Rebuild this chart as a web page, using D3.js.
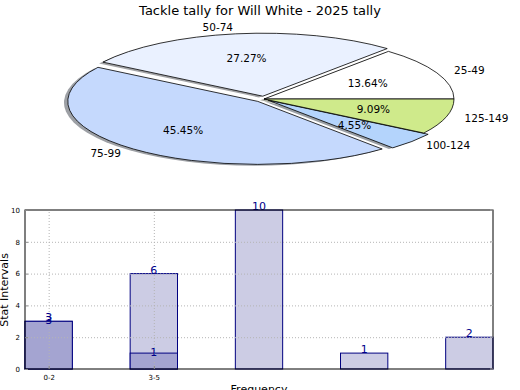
<!DOCTYPE html>
<html>
<head>
<meta charset="utf-8">
<script src="https://cdn.jsdelivr.net/npm/d3@7"></script>
<style>
    body { margin: 0; background: #fff; }
    svg { display: block; font-family: 'DejaVu Sans', sans-serif; }
</style>
</head>
<body>
<div id="chart"></div>
<script>
// pie data - tackle tally per range
const sliceLabels = ['25-49', '50-74', '75-99', '100-124', '125-149']
const sliceCounts = [3, 6, 10, 1, 2]

// bar data
const tickLabels = ['0-2', '3-5']
const lightSeries = [3, 6, 10, 1, 2]
const darkSeries = [3, 1]
const yTicks = [0, 2, 4, 6, 8, 10]

const title = 'Tackle tally for Will White - 2025 tally'

const width = 520
const height = 390

const svg = d3.select('#chart')
    .append('svg')
    .attr('width', width)
    .attr('height', height)

svg.append('text')
    .attr('x', 260)
    .attr('y', 15)
    .attr('text-anchor', 'middle')
    .attr('font-size', '13px')
    .text(title)

// ---- pie (squashed like the original) ----
const cx = 264, cy = 99, rx = 190, ry = 63
const sliceColors = ['#ffffff', '#eaf1ff', '#c5d9fd', '#b4d4fc', '#cfea8b']
const explode = [0, 0.045, 0.05, 0.03, 0]

// d3 angles run clockwise from 12 o'clock, so go backwards from 3 o'clock
const pie = d3.pie()
    .sort(null)
    .startAngle(Math.PI / 2)
    .endAngle(Math.PI / 2 - 2 * Math.PI)

const arcs = pie(sliceCounts)
const total = d3.sum(sliceCounts)

const pt = (a, k, ox, oy) => [ox + k * rx * Math.sin(a), oy - k * ry * Math.cos(a)]

const wedgePath = (d, i, dx = 0, dy = 0) => {
    const mid = (d.startAngle + d.endAngle) / 2
    const ox = cx + explode[i] * rx * Math.sin(mid) + dx
    const oy = cy - explode[i] * ry * Math.cos(mid) + dy
    const p0 = pt(d.startAngle, 1, ox, oy)
    const p1 = pt(d.endAngle, 1, ox, oy)
    const large = Math.abs(d.endAngle - d.startAngle) > Math.PI ? 1 : 0
    return `M${ox},${oy}L${p0[0]},${p0[1]}A${rx},${ry} 0 ${large} 0 ${p1[0]},${p1[1]}Z`
}

const pieG = svg.append('g')

// shadows first, underneath every wedge
pieG.selectAll('.shadow')
    .data(arcs)
    .enter()
    .append('path')
        .attr('class', 'shadow')
        .attr('d', (d, i) => wedgePath(d, i, -0.02 * rx, 0.02 * ry))
        .attr('fill', (d, i) => {
            const c = d3.rgb(sliceColors[i])
            return d3.rgb(c.r * 0.3, c.g * 0.3, c.b * 0.3)
        })
        .attr('opacity', 0.5)

pieG.selectAll('.wedge')
    .data(arcs)
    .enter()
    .append('path')
        .attr('class', 'wedge')
        .attr('d', (d, i) => wedgePath(d, i))
        .attr('fill', (d, i) => sliceColors[i])
        .attr('stroke', '#000')
        .attr('stroke-width', 0.8)
        .attr('stroke-linejoin', 'round')

const labelPos = (d, i, k) => {
    const mid = (d.startAngle + d.endAngle) / 2
    const ox = cx + explode[i] * rx * Math.sin(mid)
    const oy = cy - explode[i] * ry * Math.cos(mid)
    return pt(mid, k, ox, oy)
}

// slice names
pieG.selectAll('.name')
    .data(arcs)
    .enter()
    .append('text')
        .attr('x', (d, i) => labelPos(d, i, 1.1)[0])
        .attr('y', (d, i) => labelPos(d, i, 1.1)[1])
        .attr('dy', '0.35em')
        .attr('font-size', '10.5px')
        .attr('text-anchor', (d, i) => labelPos(d, i, 1.1)[0] > cx ? 'start' : 'end')
        .text((d, i) => sliceLabels[i])

// percentages
pieG.selectAll('.pct')
    .data(arcs)
    .enter()
    .append('text')
        .attr('x', (d, i) => labelPos(d, i, 0.6)[0])
        .attr('y', (d, i) => labelPos(d, i, 0.6)[1])
        .attr('dy', '0.35em')
        .attr('font-size', '10.5px')
        .attr('text-anchor', 'middle')
        .text(d => (d.value / total * 100).toFixed(2) + '%')

// ---- bar chart ----
const barW = 0.45
const xScale = d3.scaleLinear()
    .domain([0, lightSeries.length - 1 + barW])
    .range([25, 493])

const yScale = d3.scaleLinear()
    .domain([0, 10])
    .range([369, 210])

const barG = svg.append('g')

barG.selectAll('.light')
    .data(lightSeries)
    .enter()
    .append('rect')
        .attr('x', (d, i) => xScale(i))
        .attr('y', d => yScale(d))
        .attr('width', xScale(barW) - xScale(0))
        .attr('height', d => yScale(0) - yScale(d))
        .attr('fill', '#cccce4')
        .attr('stroke', '#000080')
        .attr('stroke-width', 1)

barG.selectAll('.dark')
    .data(darkSeries)
    .enter()
    .append('rect')
        .attr('x', (d, i) => xScale(i))
        .attr('y', d => yScale(d))
        .attr('width', xScale(barW) - xScale(0))
        .attr('height', d => yScale(0) - yScale(d))
        .attr('fill', '#a4a4d1')
        .attr('stroke', '#000080')
        .attr('stroke-width', 1)

// grid sits on top of the bars, like the original
const grid = barG.append('g')
    .attr('stroke', '#b4b4b4')
    .attr('stroke-dasharray', '1,2')

grid.selectAll('.hgrid')
    .data(yTicks.slice(1, -1))
    .enter()
    .append('line')
        .attr('x1', xScale.range()[0])
        .attr('x2', xScale.range()[1])
        .attr('y1', d => yScale(d) + 0.5)
        .attr('y2', d => yScale(d) + 0.5)

grid.selectAll('.vgrid')
    .data(tickLabels)
    .enter()
    .append('line')
        .attr('x1', (d, i) => xScale(i + barW / 2) + 0.5)
        .attr('x2', (d, i) => xScale(i + barW / 2) + 0.5)
        .attr('y1', yScale(0))
        .attr('y2', yScale(10))

// value labels
barG.selectAll('.lightLabel')
    .data(lightSeries)
    .enter()
    .append('text')
        .attr('x', (d, i) => xScale(i + barW / 2))
        .attr('y', d => yScale(d))
        .attr('text-anchor', 'middle')
        .attr('font-size', '11px')
        .attr('fill', '#00008b')
        .text(d => d)

barG.selectAll('.darkLabel')
    .data(darkSeries)
    .enter()
    .append('text')
        .attr('x', (d, i) => xScale(i + barW / 2))
        .attr('y', d => yScale(d) + 3)
        .attr('text-anchor', 'middle')
        .attr('font-size', '11px')
        .attr('fill', '#00008b')
        .text(d => d)

// frame
barG.append('rect')
    .attr('x', xScale.range()[0])
    .attr('y', yScale(10))
    .attr('width', xScale.range()[1] - xScale.range()[0])
    .attr('height', yScale(0) - yScale(10))
    .attr('fill', 'none')
    .attr('stroke', '#000')
    .attr('stroke-width', 1)

// y axis
const yAxis = barG.append('g')
    .attr('transform', `translate(${xScale.range()[0]},0)`)
    .call(d3.axisLeft(yScale).tickValues(yTicks).tickSize(-3).tickPadding(5))
yAxis.select('.domain').remove()
yAxis.selectAll('text').attr('font-size', '7px').attr('font-family', 'DejaVu Sans')
yAxis.selectAll('line').attr('stroke', '#888')

// right side ticks
barG.selectAll('.rtick')
    .data(yTicks)
    .enter()
    .append('line')
        .attr('x1', xScale.range()[1])
        .attr('x2', xScale.range()[1] - 3)
        .attr('y1', d => yScale(d))
        .attr('y2', d => yScale(d))
        .attr('stroke', '#aaa')

// x axis
const xAxis = barG.append('g')
    .attr('transform', `translate(0,${yScale(0)})`)
    .call(d3.axisBottom(xScale)
        .tickValues(tickLabels.map((d, i) => i + barW / 2))
        .tickFormat((d, i) => tickLabels[i])
        .tickSize(-3)
        .tickPadding(6))
xAxis.select('.domain').remove()
xAxis.selectAll('text').attr('font-size', '7px').attr('font-family', 'DejaVu Sans')
xAxis.selectAll('line').attr('stroke', '#888')

// axis labels
svg.append('text')
    .attr('x', 259)
    .attr('y', 393)
    .attr('text-anchor', 'middle')
    .attr('font-size', '11px')
    .text('Frequency')

svg.append('text')
    .attr('transform', 'translate(8, 290) rotate(-90)')
    .attr('text-anchor', 'middle')
    .attr('font-size', '11px')
    .text('Stat Intervals')
</script>
</body>
</html>
